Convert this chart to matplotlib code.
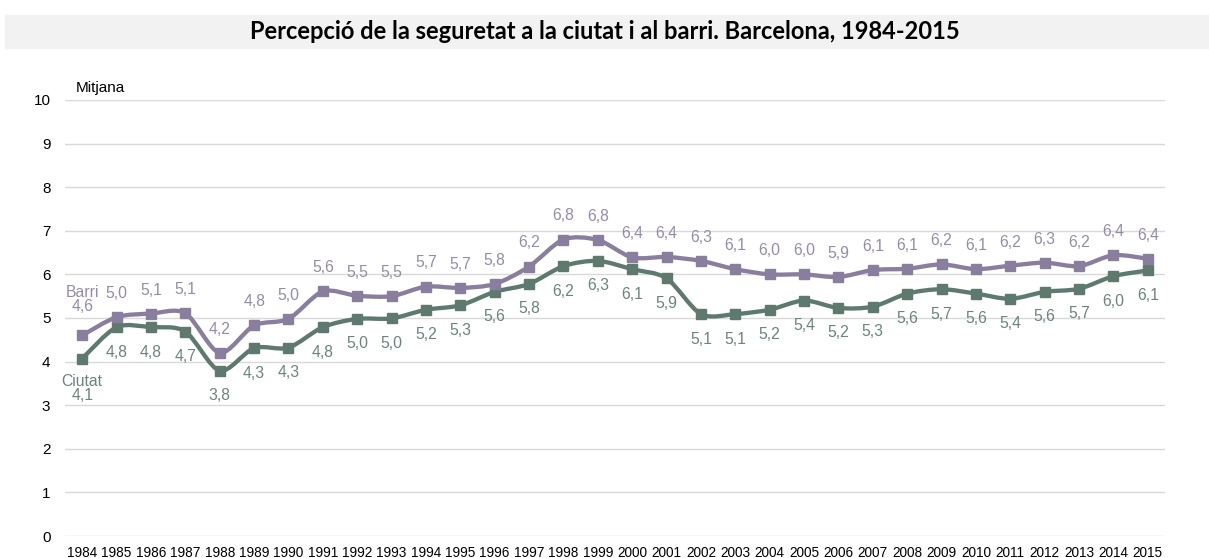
import numpy as np
import matplotlib
matplotlib.use("Agg")
import matplotlib.pyplot as plt
from matplotlib.path import Path
from matplotlib.patches import PathPatch

##########
## DATA ##
##########
years = [str(y) for y in range(1984, 2016)]
barri = [4.60, 5.02, 5.10, 5.11, 4.20, 4.83, 4.98, 5.61, 5.51, 5.50, 5.72, 5.69,
         5.78, 6.18, 6.80, 6.79, 6.39, 6.40, 6.31, 6.12, 6.00, 6.00, 5.94, 6.10,
         6.13, 6.23, 6.12, 6.20, 6.27, 6.19, 6.44, 6.36]
ciutat = [4.07, 4.79, 4.79, 4.69, 3.79, 4.31, 4.32, 4.79, 4.98, 4.99, 5.19, 5.29,
          5.60, 5.78, 6.19, 6.31, 6.12, 5.91, 5.09, 5.09, 5.19, 5.40, 5.23, 5.26,
          5.56, 5.66, 5.56, 5.44, 5.60, 5.67, 5.96, 6.09]
yticks = list(range(0, 11))

title = "Percepció de la seguretat a la ciutat i al barri. Barcelona, 1984-2015"
colBarri = "#8A7E9E"
colCiutat = "#5E7A6F"
colBarriTxt = "#968BAA"
colCiutatTxt = "#6A857A"

plt.rcParams['font.family'] = ['Liberation Sans', 'DejaVu Sans']


def smoothPath(xs, ys):
    # excel-like smoothed line: bezier segments through the points
    pts = np.column_stack([xs, ys]).astype(float)
    n = len(pts)
    verts = [pts[0]]
    codes = [Path.MOVETO]
    for i in range(n - 1):
        p0 = pts[i - 1] if i > 0 else pts[i]
        p1 = pts[i]
        p2 = pts[i + 1]
        p3 = pts[i + 2] if i + 2 < n else pts[i + 1]
        verts += [p1 + (p2 - p0) / 7.0, p2 - (p3 - p1) / 7.0, p2]
        codes += [Path.CURVE4] * 3
    return Path(verts, codes)


def fmt(v):
    return f"{v:.1f}".replace(".", ",")


fig = plt.figure(figsize=(12.09, 5.58), dpi=100)
ax = fig.add_axes([65 / 1209, 22 / 558, 1100 / 1209, 436 / 558])

# title band
fig.patches.append(plt.Rectangle((5 / 1209, 1 - 48 / 558), 1 - 5 / 1209, 33 / 558,
                                 transform=fig.transFigure, color="#F2F2F2", zorder=0))
fig.text(0.5, 1 - 31.5 / 558, title, ha="center", va="center", fontsize=17,
         fontweight="bold", family=["Lato", "DejaVu Sans"], color="#000000")

x = np.arange(len(years))

for vals, col in [(ciutat, colCiutat), (barri, colBarri)]:
    ax.add_patch(PathPatch(smoothPath(x, vals), facecolor="none", edgecolor=col,
                           lw=3.1, capstyle="round", joinstyle="round", zorder=3))
    ax.plot(x, vals, ls="none", marker="s", ms=7.2, color=col, zorder=4)

# data labels
for i, v in enumerate(barri):
    txt = fmt(v)
    off = 17
    if i == 0:
        txt = "Barri\n" + txt
        off = 26
    ax.annotate(txt, (x[i], v), xytext=(0, off), textcoords="offset points",
                ha="center", va="center", fontsize=11.3, color=colBarriTxt,
                linespacing=0.9)
for i, v in enumerate(ciutat):
    txt = fmt(v)
    off = -18
    if i == 0:
        txt = "Ciutat\n" + txt
        off = -21.5
    ax.annotate(txt, (x[i], v), xytext=(0, off), textcoords="offset points",
                ha="center", va="center", fontsize=11.3, color=colCiutatTxt,
                linespacing=0.9)

ax.set_xlim(-0.5, len(years) - 0.5)
ax.set_ylim(0, 10)
ax.set_yticks(yticks)
ax.set_xticks(x)
ax.set_xticklabels(years, fontsize=9.8)
ax.tick_params(axis="y", labelsize=11, length=0, pad=10.5)
ax.tick_params(axis="x", length=0, pad=7)
ax.grid(axis="y", color="#D9D9D9", lw=1.0)
ax.set_axisbelow(True)
for s in ax.spines.values():
    s.set_visible(False)

ax.annotate("Mitjana", xy=(11 / 1100, 1 + 12 / 436), xycoords="axes fraction",
            ha="left", va="center", fontsize=11)

fig.savefig("out.png", dpi=100)
